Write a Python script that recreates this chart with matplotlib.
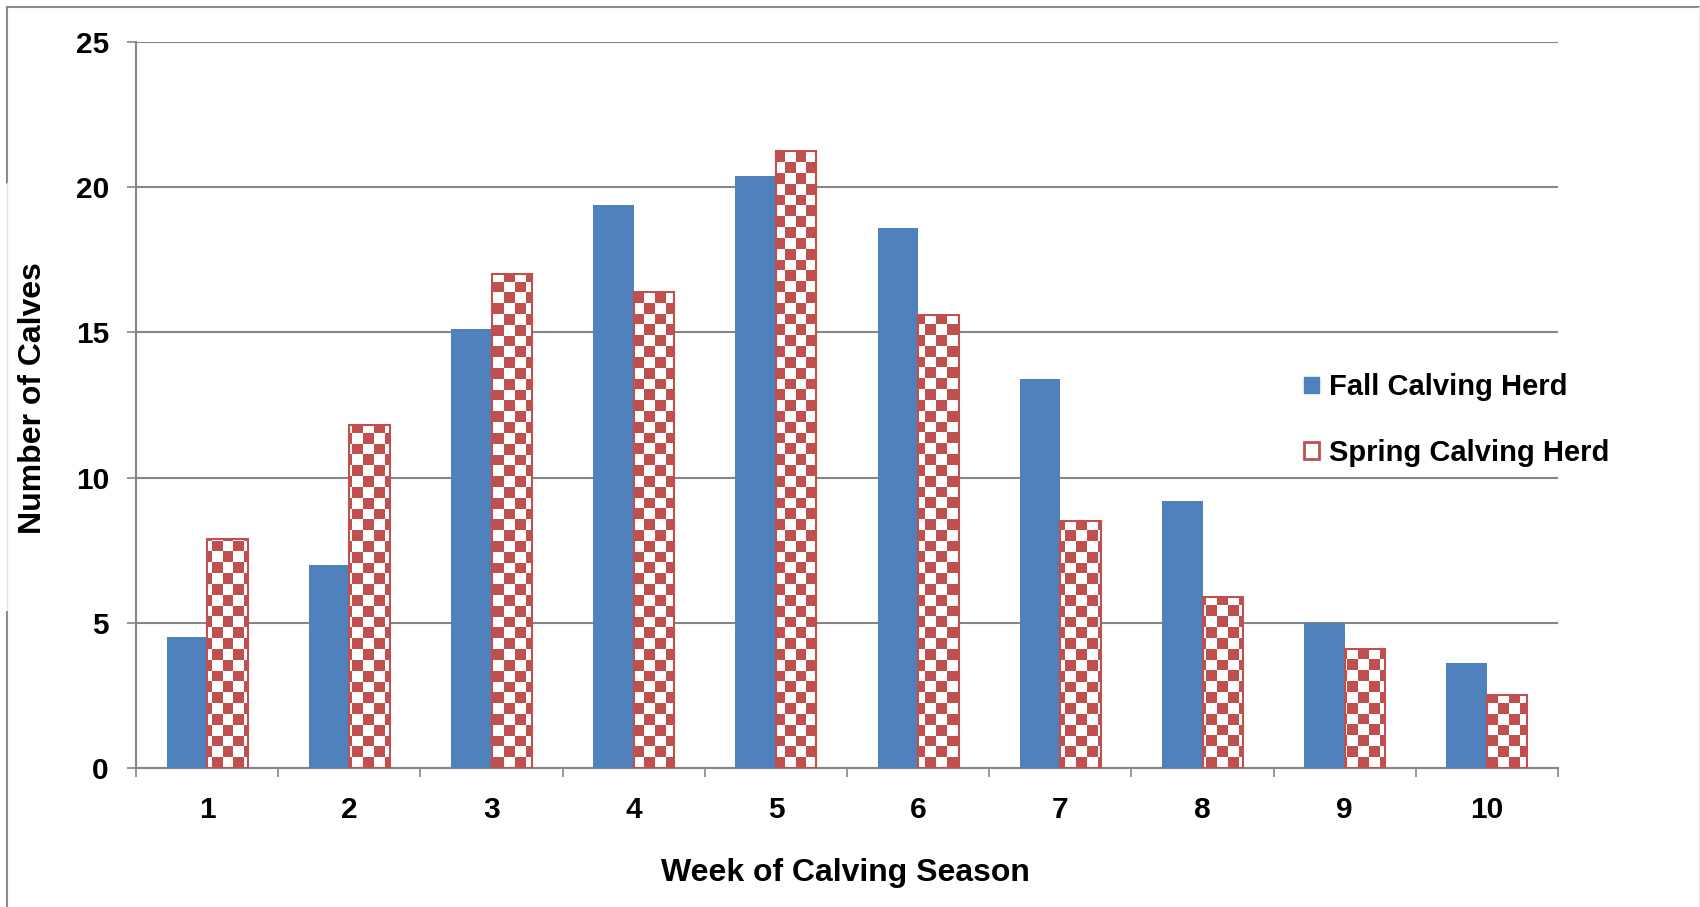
import numpy as np
import matplotlib.pyplot as plt
from matplotlib.patches import Patch
from matplotlib.lines import Line2D

plt.rcParams['font.family'] = ['Liberation Sans', 'DejaVu Sans']
plt.rcParams['font.weight'] = 'bold'

weeks = [1, 2, 3, 4, 5, 6, 7, 8, 9, 10]
fall_herd = [4.5, 7.0, 15.1, 19.4, 20.4, 18.6, 13.4, 9.2, 5.0, 3.6]
spring_herd = [7.9, 11.8, 17.0, 16.4, 21.25, 15.6, 8.5, 5.9, 4.1, 2.5]
y_ticks = [0, 5, 10, 15, 20, 25]

BLUE = '#4F81BD'
RED = '#C0504D'
GRID = '#868686'

fig = plt.figure(figsize=(17, 9.07), dpi=100)
ax = fig.add_axes([0.08, 0.1533, 0.8365, 0.8004])

x = np.array(weeks, dtype=float)
w = 0.285
ax.bar(x - w / 2, fall_herd, width=w, color=BLUE, zorder=3)
red_bars = ax.bar(x + w / 2, spring_herd, width=w, facecolor='none',
                  edgecolor=RED, linewidth=1.5, zorder=4)

ax.set_xlim(0.5, 10.5)
ax.set_ylim(0, 25)

# checkerboard fill for the spring herd, clipped to each bar
cx, cy = 0.076, 0.372
nx = int(np.ceil(10 / cx)) + 1
ny = int(np.ceil(25 / cy)) + 1
checker = (np.add.outer(np.arange(ny), np.arange(nx)) % 2).astype(float)
cmap = plt.matplotlib.colors.ListedColormap(['white', RED])
for bar in red_bars:
    im = ax.imshow(checker, cmap=cmap, origin='lower', aspect='auto',
                   interpolation='nearest', zorder=3.5,
                   extent=(0.5, 0.5 + nx * cx, 0, ny * cy))
    im.set_clip_path(bar)
ax.set_xlim(0.5, 10.5)
ax.set_ylim(0, 25)

ax.set_yticks(y_ticks)
ax.yaxis.grid(True, color=GRID, linewidth=1.5, zorder=0)
ax.set_axisbelow(True)

ax.set_xticks(np.arange(0.5, 11.0, 1.0))
ax.set_xticklabels([])
ax.set_xticks(x, minor=True)
ax.set_xticklabels([str(v) for v in weeks], minor=True)
ax.tick_params(axis='x', which='major', length=6.5, width=1.2, color=GRID, direction='out')
ax.tick_params(axis='x', which='minor', length=0, pad=20, labelsize=21.5)
ax.tick_params(axis='y', length=6.5, width=1.2, color=GRID, pad=13, labelsize=21.5)

for side in ['top', 'right']:
    ax.spines[side].set_visible(False)
for side in ['left', 'bottom']:
    ax.spines[side].set_color(GRID)
    ax.spines[side].set_linewidth(1.5)

fig.text(33 / 1700, 1 - 398 / 907, 'Number of Calves', rotation=90,
         ha='center', va='center', fontsize=23, fontweight='bold')
fig.text(845 / 1700, 1 - 873 / 907, 'Week of Calving Season',
         ha='center', va='center', fontsize=23, fontweight='bold')

handles = [Patch(facecolor=BLUE, edgecolor=BLUE),
           Patch(facecolor='white', edgecolor=RED, linewidth=2)]
fig.legend(handles, ['Fall Calving Herd', 'Spring Calving Herd'],
           loc='upper left', bbox_to_anchor=(1278 / 1700, 1 - 347 / 907),
           frameon=False, fontsize=21, handlelength=0.5, handleheight=0.5,
           handletextpad=0.35, labelspacing=1.28)

# outer border of the chart area
fc = '#8C8C8C'
fig.add_artist(Line2D([7 / 1700, 1.0], [1 - 7 / 907, 1 - 7 / 907], color=fc, lw=1.5))
fig.add_artist(Line2D([7 / 1700, 7 / 1700], [1 - 7 / 907, 1 - 183 / 907], color=fc, lw=1.5))
fig.add_artist(Line2D([7 / 1700, 7 / 1700], [1 - 183 / 907, 1 - 612 / 907], color='#E6E6E6', lw=1.0))
fig.add_artist(Line2D([7 / 1700, 7 / 1700], [1 - 612 / 907, 0.0], color=fc, lw=1.5))
fig.add_artist(Line2D([1699 / 1700, 1699 / 1700], [1 - 7 / 907, 0.0], color='#EDEDED', lw=1.0))

fig.savefig('out.png', dpi=100)
